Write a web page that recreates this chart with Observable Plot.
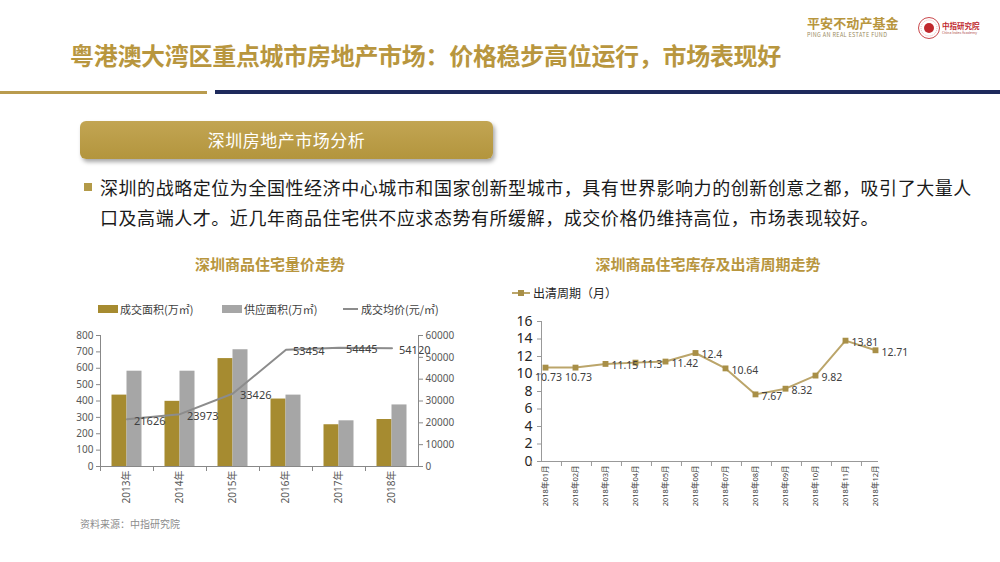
<!DOCTYPE html>
<html><head><meta charset="utf-8">
<script src="https://cdn.jsdelivr.net/npm/d3@7"></script>
<script src="https://cdn.jsdelivr.net/npm/@observablehq/plot@0.6"></script>
<style>
body{margin:0;width:1000px;height:562px;position:relative;overflow:hidden;background:#fff;font-family:"Noto Sans CJK SC","Noto Sans",sans-serif;}
.abs{position:absolute;white-space:nowrap;}
.leg{font-size:11px;color:#404040;line-height:14px;}
</style></head><body>
<script>
// ---- data ----
const years = ["2013年","2014年","2015年","2016年","2017年","2018年"];
const dealArea = [436, 398, 659, 412, 255, 287];      // 成交面积(万㎡)
const supplyArea = [582, 582, 713, 436, 279, 376];    // 供应面积(万㎡)
const avgPrice = [21626, 23973, 33426, 53454, 54445, 54120]; // 成交均价(元/㎡)
const leftTicks = [0,100,200,300,400,500,600,700,800];
const rightTicks = [0,10000,20000,30000,40000,50000,60000];

const months = ["2018年01月","2018年02月","2018年03月","2018年04月","2018年05月","2018年06月","2018年07月","2018年08月","2018年09月","2018年10月","2018年11月","2018年12月"];
const clearCycle = [10.73,10.73,11.15,11.3,11.42,12.4,10.64,7.67,8.32,9.82,13.81,12.71];
const cycleTicks = [0,2,4,6,8,10,12,14,16];
</script>

<!-- header -->
<div class="abs" style="left:70px;top:37px;font-size:24px;font-weight:bold;color:#b8963e;line-height:36px;letter-spacing:-0.3px">粤港澳大湾区重点城市房地产市场：价格稳步高位运行，市场表现好</div>
<div class="abs" style="left:0;top:91px;width:207px;height:3px;background:#b99b4e"></div>
<div class="abs" style="left:215px;top:90px;width:785px;height:4px;background:#1e2a5c"></div>

<!-- logos -->
<div class="abs" style="left:807px;top:15px;font-size:13px;font-weight:bold;color:#b8963e;line-height:16px;letter-spacing:0.1px">平安不动产基金</div>
<div class="abs" style="left:807px;top:32px;font-size:5.5px;color:#9a8a60;line-height:6px;letter-spacing:0.35px">PING AN REAL ESTATE FUND</div>
<svg class="abs" style="left:917px;top:16px" width="24" height="24">
  <circle cx="12" cy="12" r="10.5" fill="#fff" stroke="#c9484c" stroke-width="1"/>
  <circle cx="12" cy="12" r="8" fill="none" stroke="#e4a0a2" stroke-width="0.8" stroke-dasharray="1 1"/>
  <circle cx="12" cy="12" r="5" fill="#c0282d"/>
</svg>
<div class="abs" style="left:942px;top:21px;font-size:7.5px;font-weight:bold;color:#c0282d;line-height:9px">中指研究院</div>
<div class="abs" style="left:942px;top:31px;font-size:3.5px;color:#b05050;line-height:4px">China Index Academy</div>

<!-- section box -->
<div class="abs" style="left:80px;top:121px;width:413px;height:38px;border-radius:6px;background:linear-gradient(to bottom,#c2a553,#b3953d);box-shadow:2px 3px 4px rgba(0,0,0,0.35);color:#fff;font-size:17px;line-height:38px;text-align:center;letter-spacing:0.5px">深圳房地产市场分析</div>

<!-- bullet text -->
<div class="abs" style="left:84px;top:183px;width:8px;height:8px;background:#b39a48"></div>
<div class="abs" style="left:100px;top:172px;font-size:18px;line-height:30px;color:#1a1a1a;letter-spacing:0.55px">深圳的战略定位为全国性经济中心城市和国家创新型城市，具有世界影响力的创新创意之都，吸引了大量人<br>口及高端人才。近几年商品住宅供不应求态势有所缓解，成交价格仍维持高位，市场表现较好。</div>

<!-- chart titles -->
<div class="abs" style="left:170px;top:254px;width:200px;text-align:center;font-size:15px;font-weight:bold;color:#b8963e;line-height:20px">深圳商品住宅量价走势</div>
<div class="abs" style="left:558px;top:254px;width:300px;text-align:center;font-size:15px;font-weight:bold;color:#b8963e;line-height:20px">深圳商品住宅库存及出清周期走势</div>

<!-- left legend -->
<div class="abs" style="left:98px;top:305px;width:20px;height:8px;background:#a68b30"></div>
<div class="abs leg" style="left:120px;top:302px">成交面积(万㎡)</div>
<div class="abs" style="left:222px;top:305px;width:20px;height:8px;background:#a6a6a6"></div>
<div class="abs leg" style="left:244px;top:302px">供应面积(万㎡)</div>
<div class="abs" style="left:343px;top:308px;width:15px;height:1.5px;background:#8c8c8c"></div>
<div class="abs leg" style="left:361px;top:302px">成交均价(元/㎡)</div>

<!-- right legend -->
<svg class="abs" style="left:511px;top:287px" width="20" height="12">
  <line x1="1" y1="6" x2="19" y2="6" stroke="#bba56a" stroke-width="2"/>
  <rect x="7" y="3" width="6" height="6" fill="#a88f47"/>
</svg>
<div class="abs" style="left:533px;top:285px;font-size:12px;color:#262626;line-height:16px">出清周期（月）</div>

<div id="left" class="abs" style="left:60px;top:320px"></div>
<div id="right" class="abs" style="left:500px;top:310px"></div>

<div class="abs" style="left:80px;top:517px;font-size:10px;color:#8c8c8c;line-height:14px">资料来源：中指研究院</div>

<script>
const fontFam = '"Noto Sans","Noto Sans CJK SC",sans-serif';
const k = rightTicks[rightTicks.length-1] / leftTicks[leftTicks.length-1];
const rows = years.map((y,i)=>({year:y, deal:dealArea[i], supply:supplyArea[i], price:avgPrice[i]}));
const LW = 400, LML = 40, LMR = 42;
const lband = (LW - LML - LMR) / years.length;
const barW = 15;

const left = Plot.plot({
  width: LW, height: 200, marginLeft: LML, marginRight: LMR, marginTop: 15, marginBottom: 54,
  style: {fontFamily: fontFam, fontSize: "10px", color: "#595959", background: "transparent", overflow: "visible"},
  x: {domain: years, padding: 0, label: null},
  y: {domain: [0, leftTicks[leftTicks.length-1]], label: null},
  marks: [
    Plot.barY(rows, {x: "year", y: "deal", fill: "#a68b30", insetLeft: lband/2 - barW, insetRight: lband/2}),
    Plot.barY(rows, {x: "year", y: "supply", fill: "#a6a6a6", insetLeft: lband/2, insetRight: lband/2 - barW}),
    Plot.line(rows, {x: "year", y: d => d.price / k, stroke: "#8c8c8c", strokeWidth: 2}),
    Plot.text(rows, {x: "year", y: d => d.price / k, text: d => String(d.price), textAnchor: "start", dx: 7, dy: 2, fill: "#404040", fontSize: 11}),
    Plot.axisY({ticks: leftTicks, tickSize: 4, tickPadding: 3, stroke: "#888", label: null}),
    Plot.axisY({anchor: "right", ticks: rightTicks.map(v => v / k), tickFormat: d => String(Math.round(d * k)), tickSize: 4, tickPadding: 3, stroke: "#888", label: null}),
    Plot.axisX({tickRotate: -90, tickSize: 0, tickPadding: 4, label: null}),
    Plot.axisX({tickSize: 5, tickFormat: () => "", dx: -lband/2, stroke: "#888", label: null}),
    Plot.frame({anchor: "left", stroke: "#888"}),
    Plot.frame({anchor: "right", stroke: "#888"}),
    Plot.ruleY([0], {stroke: "#888"})
  ]
});
document.getElementById("left").appendChild(left);

const crow = months.map((m,i)=>({m, v: clearCycle[i], i}));
const RW = 400, RML = 41, RMR = 22;
const rband = (RW - RML - RMR) / months.length;
const right = Plot.plot({
  width: RW, height: 210, marginLeft: RML, marginRight: RMR, marginTop: 11, marginBottom: 59,
  style: {fontFamily: fontFam, fontSize: "10px", color: "#404040", background: "transparent", overflow: "visible"},
  x: {domain: months, padding: 0, label: null},
  y: {domain: [0, 16], label: null},
  marks: [
    Plot.axisY({ticks: cycleTicks, tickSize: 4, tickPadding: 5, fontSize: 14, stroke: "#999", fill: "#262626", label: null}),
    Plot.axisX({tickRotate: -90, tickSize: 0, tickPadding: 4, fontSize: 7.5, label: null}),
    Plot.axisX({tickSize: 5, tickFormat: () => "", dx: -rband/2, stroke: "#999", label: null}),
    Plot.frame({anchor: "left", stroke: "#999"}),
    Plot.ruleY([0], {stroke: "#999"}),
    Plot.line(crow, {x: "m", y: "v", stroke: "#bba56a", strokeWidth: 2}),
    Plot.dot(crow, {x: "m", y: "v", symbol: "square", r: 3.3, fill: "#a88f47", stroke: "none"}),
    Plot.text(crow.filter(d => d.i < 2), {x: "m", y: "v", text: d => String(d.v), dy: 10, dx: 3, fill: "#404040", fontSize: 10.5}),
    Plot.text(crow.filter(d => d.i >= 2), {x: "m", y: "v", text: d => String(d.v), textAnchor: "start", dx: 6, dy: 2, fill: "#404040", fontSize: 10.5})
  ]
});
document.getElementById("right").appendChild(right);
</script>
</body></html>
